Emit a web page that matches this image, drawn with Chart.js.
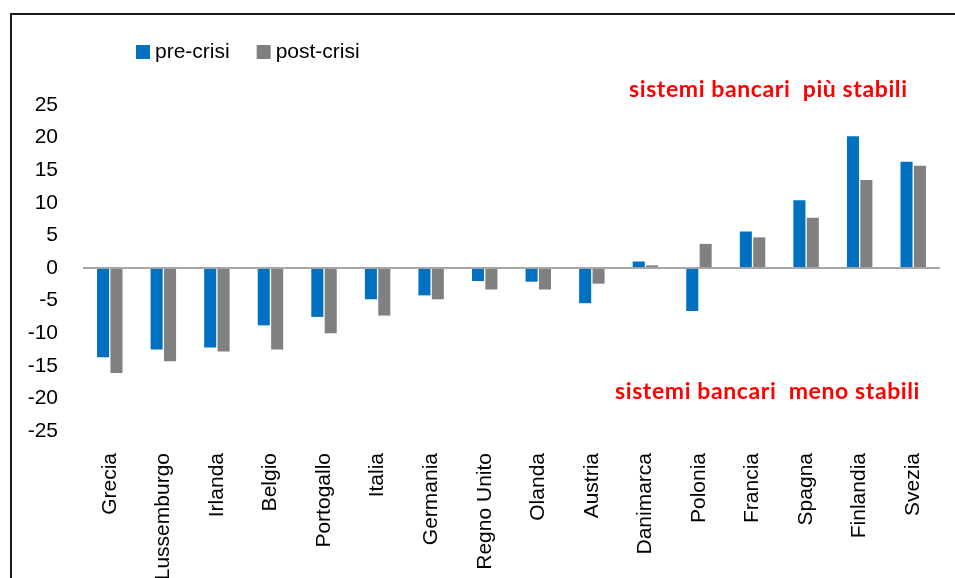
<!DOCTYPE html>
<html>
<head>
<meta charset="utf-8">
<script src="https://cdn.jsdelivr.net/npm/chart.js@4"></script>
<style>
  html, body { margin: 0; padding: 0; background: #fff; overflow: hidden; }
  #wrap { width: 955px; height: 578px; position: relative; }
</style>
</head>
<body>
<div id="wrap"><canvas id="myChart" width="955" height="578"></canvas></div>
<script>
// data
const paesi = ['Grecia', 'Lussemburgo', 'Irlanda', 'Belgio', 'Portogallo', 'Italia', 'Germania',
  'Regno Unito', 'Olanda', 'Austria', 'Danimarca', 'Polonia', 'Francia', 'Spagna', 'Finlandia', 'Svezia'];
const preCrisi = [-13.7, -12.5, -12.2, -8.8, -7.5, -4.8, -4.2, -2.0, -2.1, -5.4, 1.0, -6.6, 5.6, 10.4, 20.2, 16.3];
const postCrisi = [-16.1, -14.3, -12.8, -12.5, -10.0, -7.3, -4.8, -3.3, -3.3, -2.4, 0.4, 3.7, 4.7, 7.7, 13.5, 15.7];
const yTicks = [25, 20, 15, 10, 5, 0, -5, -10, -15, -20, -25];

const font = '"Liberation Sans", Arial, sans-serif';

// legend, frame and the two red notes
const extras = {
  id: 'extras',
  afterDraw(chart) {
    const c = chart.ctx;
    c.save();
    c.strokeStyle = '#1a1a1a';
    c.lineWidth = 2;
    c.strokeRect(11, 14, 1000, 1000);

    c.font = '21px ' + font;
    c.textBaseline = 'middle';
    let x = 136;
    chart.data.datasets.forEach(ds => {
      c.fillStyle = ds.backgroundColor;
      c.fillRect(x, 45, 14, 14);
      c.fillStyle = '#000';
      c.fillText(ds.label, x + 19, 52);
      x += 19 + c.measureText(ds.label).width + 27;
    });

    c.fillStyle = '#ff0000';
    c.font = 'bold 23px Lato, "Open Sans", sans-serif';
    c.letterSpacing = '0.6px';
    c.textAlign = 'left';
    c.fillText('sistemi bancari  più stabili', 629, 90);
    c.fillText('sistemi bancari  meno stabili', 615, 392);
    c.restore();
  }
};

const ctx = document.getElementById('myChart');
new Chart(ctx, {
  type: 'bar',
  data: {
    labels: paesi,
    datasets: [
      { label: 'pre-crisi', data: preCrisi, backgroundColor: '#0070C0' },
      { label: 'post-crisi', data: postCrisi, backgroundColor: '#808080' }
    ]
  },
  options: {
    responsive: false,
    animation: false,
    categoryPercentage: 0.5,
    barPercentage: 0.9,
    layout: { padding: { top: 105, right: 15, left: 0, bottom: 0 } },
    plugins: {
      legend: { display: false },
      tooltip: { enabled: false }
    },
    scales: {
      x: {
        grid: { display: false },
        border: { display: false },
        ticks: {
          color: '#000',
          font: { family: font, size: 21 },
          minRotation: 90,
          maxRotation: 90,
          autoSkip: false,
          padding: 14
        },
        afterFit(scale) { scale.height = 147; }
      },
      y: {
        min: -25,
        max: 25,
        afterBuildTicks(scale) { scale.ticks = yTicks.map(v => ({ value: v })); },
        grid: {
          drawTicks: false,
          lineWidth: 2,
          color: c => (c.tick && c.tick.value === 0) ? '#a6a6a6' : 'rgba(0,0,0,0)'
        },
        border: { display: false },
        ticks: {
          color: '#000',
          font: { family: font, size: 21 },
          padding: 25
        },
        afterFit(scale) { scale.width = 83; }
      }
    }
  },
  plugins: [extras]
});
</script>
</body>
</html>
